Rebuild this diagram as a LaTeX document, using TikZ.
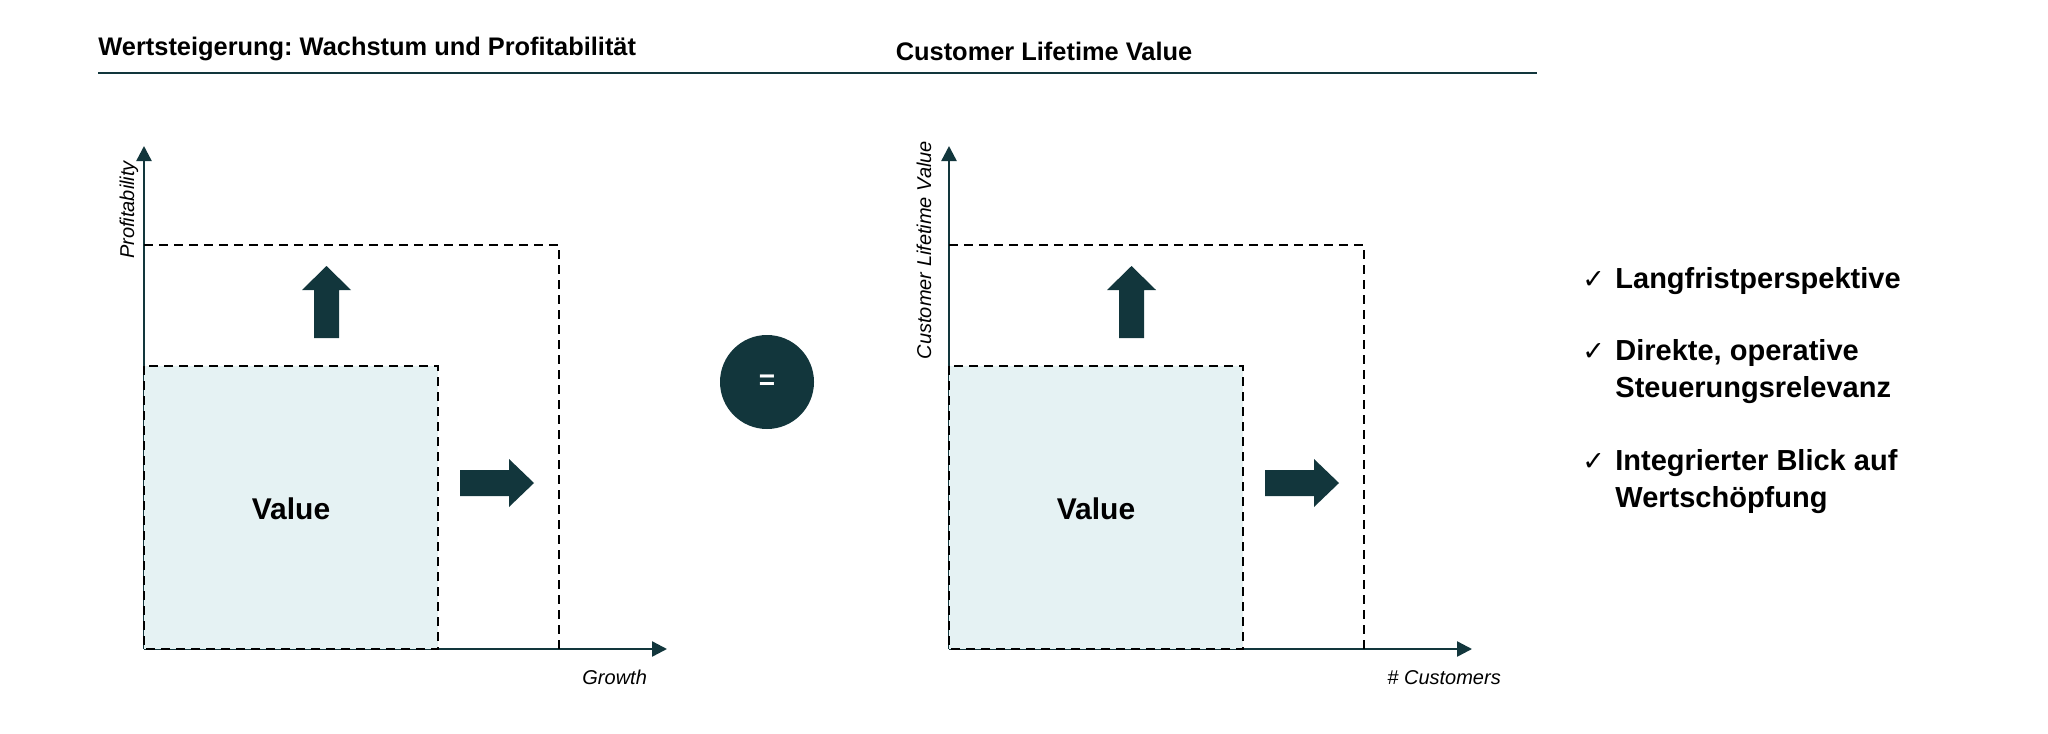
\documentclass[tikz,border=0pt]{standalone}
\usepackage{fontspec}
\setmainfont{Liberation Sans}
\newfontfamily\dejavu{DejaVu Sans}
\usetikzlibrary{arrows.meta}
\definecolor{darkteal}{HTML}{12363C}
\definecolor{valfill}{HTML}{E5F2F3}
\frenchspacing
\tikzset{
  axisline/.style={draw=darkteal, line width=1.2pt, -{Triangle[length=7.5pt,width=7.5pt]}},
  dashline/.style={draw=black, line width=0.9pt, dash pattern=on 4.5pt off 3pt},
  valbox/.style={dashline, fill=valfill},
  blockarrow/.style={fill=darkteal},
  titletext/.style={font=\bfseries\fontsize{12.7pt}{15pt}\selectfont, inner sep=0pt},
  axislabel/.style={font=\itshape\fontsize{10pt}{12pt}\selectfont, inner sep=0pt},
  valuetext/.style={font=\bfseries\fontsize{15pt}{18pt}\selectfont, inner sep=0pt},
  itemtext/.style={font=\bfseries\fontsize{14.5pt}{17pt}\selectfont, inner sep=0pt, anchor=base west},
  checkmark/.style={font=\dejavu\fontsize{13.5pt}{16pt}\selectfont, inner sep=0pt, anchor=base west},
}
\begin{document}
\begin{tikzpicture}[x=0.5pt,y=-0.5pt]
\useasboundingbox (0,0) rectangle (2048,733);

% header
\node[titletext, anchor=base west] (t1) at (98,56) {Wertsteigerung: Wachstum und Profitabilität};
\node[titletext, anchor=base] (t2) at (1044,61) {Customer Lifetime Value};
\coordinate (hl) at (98,73);
\coordinate (hr) at (1537,73);
\draw[darkteal, line width=1pt] (hl) -- (hr);

% left chart
\coordinate (o1) at (144,649);
\coordinate (ytop1) at (144,146);
\coordinate (xend1) at (667,649);
\draw[axisline] (o1) -- (ytop1);
\draw[axisline] (o1) -- (xend1);
\draw[valbox] (144,366) rectangle (438,649);
\draw[dashline] (144,245) -- (559,245) -- (559,649);
\fill[blockarrow] (314,338) -- (314,290) -- (302,290) -- (326.5,266) -- (351,290) -- (339,290) -- (339,338) -- cycle;
\fill[blockarrow] (460,470) -- (509,470) -- (509,459) -- (534,483) -- (509,507) -- (509,496) -- (460,496) -- cycle;
\node[valuetext] (v1) at (291,509) {Value};
\node[axislabel, anchor=base west] (gx1) at (582,684) {Growth};
\node[axislabel, rotate=90, anchor=base] (gy1) at (134,210) {Profitability};

% equals
\node[circle, fill=darkteal, minimum size=47pt, inner sep=0pt, text=white,
      font=\bfseries\fontsize{14pt}{16pt}\selectfont] (eq) at (767,382) {=};

% right chart
\begin{scope}[shift={(805,0)}]
\coordinate (o2) at (144,649);
\coordinate (ytop2) at (144,146);
\coordinate (xend2) at (667,649);
\draw[axisline] (o2) -- (ytop2);
\draw[axisline] (o2) -- (xend2);
\draw[valbox] (144,366) rectangle (438,649);
\draw[dashline] (144,245) -- (559,245) -- (559,649);
\fill[blockarrow] (314,338) -- (314,290) -- (302,290) -- (326.5,266) -- (351,290) -- (339,290) -- (339,338) -- cycle;
\fill[blockarrow] (460,470) -- (509,470) -- (509,459) -- (534,483) -- (509,507) -- (509,496) -- (460,496) -- cycle;
\node[valuetext] (v2) at (291,509) {Value};
\node[axislabel, anchor=base west] (gx2) at (582,684) {\# Customers};
\node[axislabel, rotate=90, anchor=base] (gy2) at (126,250) {Customer Lifetime Value};
\end{scope}

% checklist
\node[checkmark] (c1) at (1582,288) {✓};
\node[itemtext] (i1) at (1615,288) {Langfristperspektive};
\node[checkmark] (c2) at (1582,360) {✓};
\node[itemtext] (i2a) at (1615,360) {Direkte, operative};
\node[itemtext] (i2b) at (1615,397) {Steuerungsrelevanz};
\node[checkmark] (c3) at (1582,470) {✓};
\node[itemtext] (i3a) at (1615,470) {Integrierter Blick auf};
\node[itemtext] (i3b) at (1615,507) {Wertschöpfung};
\end{tikzpicture}
\end{document}
